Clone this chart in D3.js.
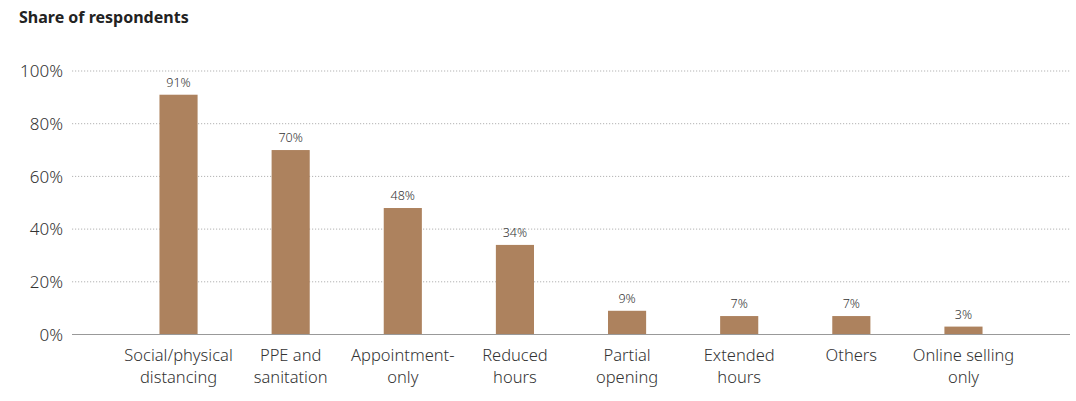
<!DOCTYPE html>
<html>
<head>
<meta charset="utf-8">
<script src="https://cdn.jsdelivr.net/npm/d3@7"></script>
<style>
  body { margin: 0; background: #fff; }
  svg { display: block; font-family: "Noto Sans", "Open Sans", sans-serif; }
</style>
</head>
<body>
<svg id="chart" width="1076" height="401"></svg>
<script>
// Measures taken by businesses, share of respondents
const categories = [
  ["Social/physical", "distancing"],
  ["PPE and", "sanitation"],
  ["Appointment-", "only"],
  ["Reduced", "hours"],
  ["Partial", "opening"],
  ["Extended", "hours"],
  ["Others"],
  ["Online selling", "only"]
];
const values = [91, 70, 48, 34, 9, 7, 7, 3];
const yTicks = [0, 20, 40, 60, 80, 100];

const svg = d3.select("#chart");
const plotLeft = 72, plotRight = 1070, plotTop = 71, plotBottom = 334.5;

const x = d3.scaleBand()
  .domain(d3.range(values.length))
  .range([plotLeft, plotRight])
  .paddingInner(0.66)
  .paddingOuter(0.78);

const y = d3.scaleLinear().domain([0, 100]).range([plotBottom, plotTop]);

// Title
svg.append("text")
  .attr("x", 19).attr("y", 23)
  .attr("font-size", 16).attr("font-weight", 700)
  .attr("fill", "#222")
  .text("Share of respondents");

// Gridlines
svg.append("g").selectAll("line")
  .data(yTicks.filter(d => d > 0))
  .join("line")
  .attr("x1", plotLeft).attr("x2", plotRight)
  .attr("y1", d => y(d)).attr("y2", d => y(d))
  .attr("stroke", "#b3b3b3")
  .attr("stroke-width", 1)
  .attr("stroke-dasharray", "1.2,1.8");

// Y axis tick labels
svg.append("g").selectAll("text")
  .data(yTicks)
  .join("text")
  .attr("x", 63)
  .attr("y", d => y(d))
  .attr("dy", "0.36em")
  .attr("text-anchor", "end")
  .attr("font-size", 17)
  .attr("font-weight", 300)
  .attr("fill", "#333")
  .text(d => d + "%");

// Bars
svg.append("g").selectAll("rect")
  .data(values)
  .join("rect")
  .attr("x", (d, i) => x(i))
  .attr("width", x.bandwidth())
  .attr("y", d => y(d))
  .attr("height", d => y(0) - y(d))
  .attr("fill", "#ad825e");

// Value labels
svg.append("g").selectAll("text")
  .data(values)
  .join("text")
  .attr("x", (d, i) => x(i) + x.bandwidth() / 2)
  .attr("y", d => y(d) - 8)
  .attr("text-anchor", "middle")
  .attr("font-size", 12.5)
  .attr("font-weight", 300)
  .attr("fill", "#333")
  .text(d => d + "%");

// Baseline
svg.append("line")
  .attr("x1", plotLeft).attr("x2", plotRight)
  .attr("y1", y(0)).attr("y2", y(0))
  .attr("stroke", "#999")
  .attr("stroke-width", 1.2);

// Category labels
const cat = svg.append("g").selectAll("text")
  .data(categories)
  .join("text")
  .attr("text-anchor", "middle")
  .attr("font-size", 16.5)
  .attr("font-weight", 300)
  .attr("fill", "#333");
cat.selectAll("tspan")
  .data((d, i) => d.map(line => ({ line, i })))
  .join("tspan")
  .attr("x", d => x(d.i) + x.bandwidth() / 2)
  .attr("y", (d, j) => 361 + j * 22)
  .text(d => d.line);
</script>
</body>
</html>
